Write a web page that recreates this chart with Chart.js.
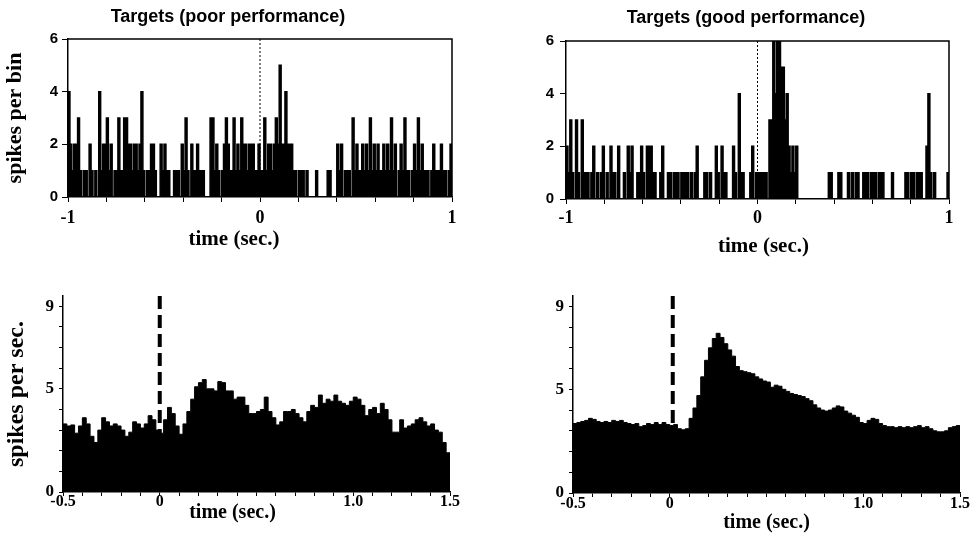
<!DOCTYPE html>
<html>
<head>
<meta charset="utf-8">
<script src="https://cdn.jsdelivr.net/npm/chart.js@4/dist/chart.umd.min.js"></script>
<style>
  body { margin: 0; background: #fff; }
  #fig { position: relative; width: 979px; height: 538px; overflow: hidden; }
  #fig canvas { position: absolute; }
</style>
</head>
<body>
<div id="fig">
  <canvas id="poorHist" width="490" height="265" style="left:0px;top:0px"></canvas>
  <canvas id="goodHist" width="449" height="265" style="left:530px;top:0px"></canvas>
  <canvas id="poorRate" width="490" height="268" style="left:0px;top:270px"></canvas>
  <canvas id="goodRate" width="459" height="268" style="left:520px;top:270px"></canvas>
</div>
<script>
// spike counts, 10 ms bins from -1 s to +1 s
const poorCounts = [
  4,2,1,2,2,3,1,0,1,1, 0,2,1,0,1,0,4,1,2,2, 3,1,2,0,1,1,3,1,1,3, 3,2,2,1,2,2,1,2,4,1,
  0,1,1,2,2,1,0,0,2,1, 2,1,1,0,0,1,1,1,0,2, 1,3,1,0,2,1,1,2,1,1, 1,0,0,0,3,3,1,2,1,0,
  1,2,3,2,1,1,3,1,2,1, 3,2,2,1,2,2,2,1,1,2,
  1,1,3,1,2,2,1,2,3,2, 5,2,2,4,2,2,2,1,1,0, 1,1,1,0,1,0,0,0,0,1, 0,0,0,0,0,1,1,0,0,0,
  2,1,2,0,1,1,1,0,3,1, 2,1,1,2,1,2,1,3,1,2, 1,2,1,1,2,1,2,1,3,1, 2,0,1,2,1,3,1,1,0,1,
  2,1,3,1,2,1,1,1,0,1, 2,1,1,1,2,1,1,0,1,2
];
const goodCounts = [
  2,1,3,1,0,3,1,0,3,1, 1,1,0,1,2,0,1,0,1,2, 0,1,0,2,1,1,0,2,0,0, 1,0,2,1,2,0,0,1,1,2,
  1,0,2,2,2,1,1,0,0,1, 2,0,0,1,1,0,1,1,1,0, 1,1,1,1,0,1,0,1,2,0, 0,0,1,1,0,1,0,0,2,1,
  0,2,1,1,0,0,0,2,1,0, 4,1,1,0,0,0,1,2,0,1,
  1,1,1,1,1,0,3,3,6,4, 6,6,5,5,3,4,2,1,2,1, 2,0,0,0,0,0,0,0,0,0, 0,0,0,0,0,0,0,1,1,0,
  0,0,1,1,0,0,0,1,0,1, 0,1,1,0,0,1,1,1,0,1, 1,1,0,1,1,1,0,0,0,0, 1,0,0,0,0,0,0,1,1,0,
  1,1,0,1,1,1,0,0,2,4, 1,0,1,0,0,0,0,0,0,1
];
const histStart = -1;
const histBin = 0.01;

// firing rate (spikes per sec.), 20 ms bins from -0.5 s to 1.5 s
const poorRates = [
  3.3,3.2,3.25,2.85,3.2,3.6,3.3,2.7,2.4,3.0, 3.6,3.4,3.2,3.3,3.2,3.0,2.7,2.9,3.4,3.3,
  3.1,3.3,3.7,3.5,3.0,2.85,3.5,4.1,3.8,3.2, 2.8,3.3,3.9,4.5,5.1,5.3,5.45,5.0,5.0,4.9,
  5.35,5.3,4.9,4.9,4.5,4.6,4.6,4.2,3.8,3.8, 3.9,4.0,4.6,3.9,3.6,3.25,3.4,3.9,3.9,4.0,
  3.8,3.6,3.4,3.9,4.2,4.1,4.7,4.3,4.5,4.4, 4.7,4.4,4.3,4.2,4.4,4.6,4.5,4.2,3.7,4.0,
  4.1,3.8,4.3,4.0,3.5,2.9,2.9,3.5,3.1,3.2, 3.3,3.5,3.6,3.4,3.2,3.3,3.0,2.9,2.4,1.9
];
const goodRates = [
  3.35,3.4,3.45,3.5,3.6,3.55,3.45,3.4,3.45,3.4, 3.5,3.45,3.5,3.4,3.35,3.3,3.35,3.2,3.25,3.35,
  3.3,3.4,3.3,3.4,3.3,3.25,3.3,3.1,3.05,3.1, 3.6,4.1,4.7,5.6,6.4,7.0,7.45,7.7,7.5,7.2,
  6.9,6.6,6.1,5.9,5.85,5.8,5.75,5.6,5.5,5.4, 5.35,5.1,5.2,5.15,5.0,4.9,4.8,4.75,4.7,4.65,
  4.55,4.45,4.25,4.1,4.0,3.95,4.0,4.1,4.2,4.15, 3.95,3.85,3.75,3.65,3.4,3.35,3.5,3.6,3.55,3.35,
  3.25,3.2,3.2,3.15,3.2,3.15,3.2,3.15,3.2,3.25, 3.15,3.2,3.1,3.0,2.95,2.95,3.0,3.15,3.2,3.25
];
const rateStart = -0.5;
const rateBin = 0.02;

// tick labels
const histXTicks = [-1, 0, 1];
const histXLabels = ['-1', '0', '1'];
const histYTicks = [0, 2, 4, 6];
const histYLabels = ['0', '2', '4', '6'];
const rateXTicks = [-0.5, 0, 1, 1.5];
const rateXLabels = ['-0.5', '0', '1.0', '1.5'];
const rateYTicks = [0, 5, 9];
const rateYLabels = ['0', '5', '9'];

const SERIF = "'Liberation Serif', 'Times New Roman', serif";
const SANS = "'Liberation Sans', Arial, sans-serif";

function to_steps(values, start, width) {
  const points = values.map((v, i) => ({x: start + i * width, y: v}));
  points.push({x: start + values.length * width, y: values[values.length - 1]});
  return points;
}

function label_for(value, ticks, labels) {
  const i = ticks.findIndex(t => Math.abs(t - value) < 1e-6);
  return i < 0 ? '' : labels[i];
}

// stimulus line at t = 0, box frame and the x caption
const panelMarks = {
  id: 'panelMarks',
  beforeDatasetsDraw(chart, args, opts) {
    const {ctx, chartArea, scales} = chart;
    const x0 = scales.x.getPixelForValue(0) + (opts.shift || 0);
    ctx.save();
    ctx.strokeStyle = '#000';
    ctx.lineWidth = opts.width;
    ctx.setLineDash(opts.dash);
    ctx.beginPath();
    ctx.moveTo(x0, chartArea.top);
    ctx.lineTo(x0, chartArea.bottom);
    ctx.stroke();
    ctx.restore();
  },
  afterDraw(chart, args, opts) {
    const {ctx, chartArea} = chart;
    ctx.save();
    if (opts.frame) {
      ctx.strokeStyle = '#000';
      ctx.lineWidth = 1.5;
      ctx.beginPath();
      ctx.moveTo(chartArea.left, chartArea.top);
      ctx.lineTo(chartArea.right, chartArea.top);
      ctx.lineTo(chartArea.right, chartArea.bottom);
      ctx.stroke();
    }
    ctx.fillStyle = '#000';
    ctx.font = opts.captionFont;
    ctx.textAlign = 'center';
    ctx.textBaseline = 'middle';
    ctx.fillText(opts.caption, (chartArea.left + chartArea.right) / 2 + opts.captionDx, chartArea.bottom + opts.captionDy);
    ctx.restore();
  }
};

function create_panel(id, points, p) {
  const config = {
    type: 'line',
    data: {
      datasets: [{
        data: points,
        stepped: 'before',
        fill: 'origin',
        backgroundColor: '#000',
        borderColor: '#000',
        borderWidth: p.lineWidth,
        pointRadius: 0
      }]
    },
    options: {
      responsive: false,
      animation: false,
      layout: {padding: p.padding},
      plugins: {
        legend: {display: false},
        tooltip: {enabled: false},
        title: {
          display: !!p.title,
          text: p.title,
          color: '#000',
          font: {family: SANS, size: 18, weight: 'bold'},
          padding: p.titlePad
        },
        panelMarks: p.marks
      },
      scales: {
        x: {
          type: 'linear',
          min: p.xMin,
          max: p.xMax,
          afterFit: (s) => { s.height = p.xHeight; },
          border: {color: '#000', width: 1.5},
          grid: {drawOnChartArea: false, color: '#000', tickLength: p.xTickLen},
          ticks: {
            stepSize: p.xStep,
            autoSkip: false,
            maxRotation: 0,
            color: '#000',
            padding: p.xTickPad,
            font: {family: SERIF, size: p.xTickSize, weight: 'bold'},
            callback: (v) => label_for(v, p.xTicks, p.xLabels)
          }
        },
        y: {
          min: 0,
          max: p.yMax,
          afterFit: (s) => { s.width = p.yWidth; },
          border: {color: '#000', width: 1.5},
          grid: {drawOnChartArea: false, color: '#000', tickLength: p.yTickLen},
          title: {
            display: !!p.yTitle,
            text: p.yTitle,
            color: '#000',
            font: {family: SERIF, size: p.yTitleSize, weight: 'bold', lineHeight: 1},
            padding: {top: p.yTitlePad, bottom: 0}
          },
          ticks: {
            stepSize: p.yStep,
            includeBounds: false,
            autoSkip: false,
            color: '#000',
            padding: p.yTickPad,
            font: {family: p.yTickFont, size: p.yTickSize, weight: 'bold'},
            callback: (v) => label_for(v, p.yTicks, p.yLabels)
          }
        }
      }
    },
    plugins: [panelMarks]
  };
  return new Chart(document.getElementById(id), config);
}

const histCommon = {
  xMin: -1, xMax: 1, xStep: 0.2, xTicks: histXTicks, xLabels: histXLabels,
  xTickLen: 5, xTickSize: 18,
  yMax: 6, yStep: 2, yTicks: histYTicks, yLabels: histYLabels,
  yTickLen: 6, yTickFont: SANS, yTickSize: 15, lineWidth: 1.5
};
const rateCommon = {
  xMin: -0.5, xMax: 1.5, xStep: 0.1, xTicks: rateXTicks, xLabels: rateXLabels,
  xTickLen: 4, xTickSize: 16,
  yMax: 9.5, yStep: 1, yTicks: rateYTicks, yLabels: rateYLabels,
  yTickLen: 4, yTickFont: SERIF, yTickSize: 17, yTickPad: 5, lineWidth: 1
};

create_panel('poorHist', to_steps(poorCounts, histStart, histBin), Object.assign({}, histCommon, {
  title: 'Targets (poor performance)',
  titlePad: {top: 6, bottom: 11.4},
  padding: {left: 4, right: 38, top: 0, bottom: 0},
  xHeight: 68, xTickPad: 6,
  yWidth: 64, yTickPad: 4,
  yTitle: 'spikes per bin', yTitleSize: 22, yTitlePad: 0,
  marks: {dash: [2, 2], width: 1, frame: true, caption: 'time (sec.)',
    captionFont: 'bold 21px ' + SERIF, captionDx: -26, captionDy: 43}
}));

create_panel('goodHist', to_steps(goodCounts, histStart, histBin), Object.assign({}, histCommon, {
  title: 'Targets (good performance)',
  titlePad: {top: 7, bottom: 12.4},
  padding: {left: 13, right: 30, top: 0, bottom: 0},
  xHeight: 66, xTickPad: 4,
  yWidth: 23, yTickPad: 6,
  marks: {dash: [2, 2], width: 1, frame: true, caption: 'time (sec.)',
    captionFont: 'bold 21px ' + SERIF, captionDx: 6, captionDy: 48}
}));

create_panel('poorRate', to_steps(poorRates, rateStart, rateBin), Object.assign({}, rateCommon, {
  padding: {left: 0, right: 40, top: 26, bottom: 0},
  xHeight: 46, xTickPad: -4,
  yWidth: 63,
  yTitle: 'spikes per sec.', yTitleSize: 24, yTitlePad: 5,
  marks: {dash: [13, 6], width: 4, frame: false, caption: 'time (sec.)',
    captionFont: 'bold 20px ' + SERIF, captionDx: -24, captionDy: 21}
}));

create_panel('goodRate', to_steps(goodRates, rateStart, rateBin), Object.assign({}, rateCommon, {
  padding: {left: 0, right: 19, top: 26, bottom: 0},
  xHeight: 45, xTickPad: -3,
  yWidth: 53,
  marks: {dash: [13, 6], width: 4, shift: 3, frame: false, caption: 'time (sec.)',
    captionFont: 'bold 20px ' + SERIF, captionDx: 0, captionDy: 30}
}));
</script>
</body>
</html>
